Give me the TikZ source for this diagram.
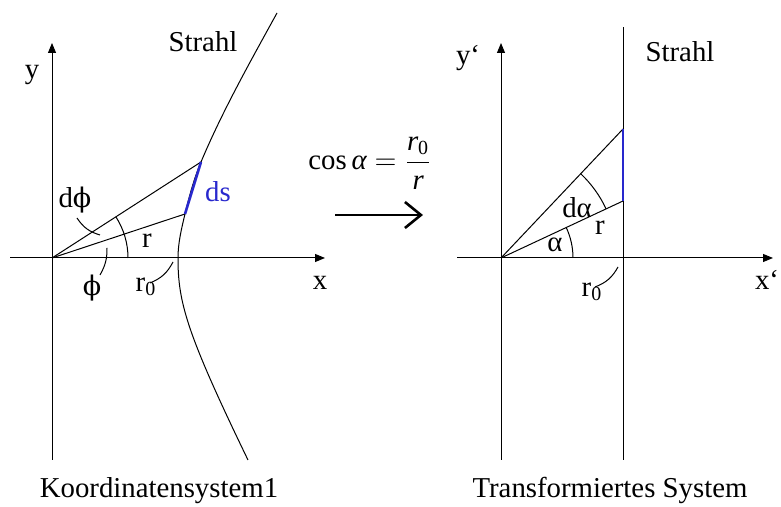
\documentclass[tikz,border=0pt]{standalone}
\usepackage{amsmath}
\usepackage{fontspec}
\setmainfont{Liberation Serif}
\newfontfamily\phifont{DejaVu Serif}
\usetikzlibrary{arrows.meta}
\definecolor{dsblue}{RGB}{40,40,205}
\newcommand{\phisym}{{\phifont\fontsize{13.5}{16}\selectfont ϕ}}
\tikzset{
  axis/.style={draw,line width=0.5pt,-{Triangle[length=5pt,width=4pt]}},
  thinline/.style={draw,line width=0.5pt},
  dsline/.style={draw,dsblue,line width=1.3pt},
  lbl/.style={inner sep=0pt,font=\fontsize{14.4}{17}\selectfont},
  caption/.style={lbl,anchor=base}
}

\begin{document}
\begin{tikzpicture}[x=0.5pt,y=0.5pt]
  \useasboundingbox (0,0) rectangle (781,507);
  % Koordinatensystem1
  \coordinate (O) at (52,249);
  \coordinate (ybot) at (52,47);
  \coordinate (ytop) at (52,464);
  \coordinate (xleft) at (10,249);
  \coordinate (xright) at (325,249);
  \coordinate (A1) at (185,293);
  \coordinate (A2) at (201,345);
  \coordinate (sbot1) at (248,47);
  \coordinate (scut) at (178,249);
  \coordinate (stop1) at (277,494);
  \draw[axis] (ybot) -- (ytop);
  \draw[axis] (xleft) -- (xright);
  \draw[thinline] (sbot1) .. controls (186,175) and (178,205) .. (scut)
    .. controls (178,264) and (181.5,278.4) .. (A1)
    .. controls (189.2,310.5) and (194,328.4) .. (A2)
    .. controls (222.3,395.7) and (250.5,445.8) .. (stop1);
  \draw[thinline] (O) -- (A1);
  \draw[thinline] (O) -- (A2);
  \draw[dsline] (A1) -- (A2);
  \draw[thinline] (O) ++(38pt,0) arc[start angle=0,end angle=32.8,radius=38pt];
  \node[lbl] (y) at (32,432) {y};
  \node[lbl] (x) at (320,224) {x};
  \node[lbl] (strahl1) at (203,465) {Strahl};
  \node[lbl,text=dsblue] (ds) at (218,315) {ds};
  \node[lbl] (dphi) at (75,307) {d\phisym};
  \node[lbl] (r1) at (147,266) {r};
  \node[lbl] (phi) at (92,219) {\phisym};
  \node[lbl] (r01) at (146,220) {r\textsubscript{0}};
  \draw[thinline] (77,289) to[bend right=20] (100,272);
  \draw[thinline] (107,259) to[bend left=15] (100,232);
  \draw[thinline] (150,224) to[bend right=20] (173,245);
  \node[caption] (cap1) at (159,9) {Koordinatensystem1};
  % Transformation
  \node[lbl] (formel) at (370,344) {$\text{cos}\,\textit{α}=\dfrac{\textit{r}_{\text{0}}}{\textit{r}}$};
  \coordinate (arstart) at (335,292);
  \coordinate (arend) at (423,292);
  \draw[line width=1.3pt,-{Straight Barb[length=8pt,width=13pt]}] (arstart) -- (arend);
  % Transformiertes System
  \coordinate (Ot) at (501,249);
  \coordinate (ytbot) at (501,47);
  \coordinate (yttop) at (501,464);
  \coordinate (xtleft) at (457,249);
  \coordinate (xtright) at (773,249);
  \coordinate (sbot) at (623,47);
  \coordinate (stop) at (623,480);
  \coordinate (B1) at (623,306);
  \coordinate (B2) at (623,378);
  \draw[axis] (ytbot) -- (yttop);
  \draw[axis] (xtleft) -- (xtright);
  \draw[thinline] (sbot) -- (stop);
  \draw[thinline] (Ot) -- (B1);
  \draw[thinline] (Ot) -- (B2);
  \draw[dsline] (B1) -- (B2);
  \draw[thinline] (Ot) ++(36pt,0) arc[start angle=0,end angle=25,radius=36pt];
  \draw[thinline] (Ot) ++(25:58pt) arc[start angle=25,end angle=46.6,radius=58pt];
  \node[lbl] (yt) at (468,449) {y‘};
  \node[lbl] (xt) at (767,227) {x‘};
  \node[lbl] (strahl2) at (680,455) {Strahl};
  \node[lbl] (dalpha) at (577,299) {dα};
  \node[lbl] (r2) at (600,279) {r};
  \node[lbl] (alpha) at (555,262) {α};
  \node[lbl] (r02) at (592,215) {r\textsubscript{0}};
  \draw[thinline] (595,220) to[bend right=20] (618,240);
  \node[caption] (cap2) at (610,9) {Transformiertes System};
\end{tikzpicture}
\end{document}
